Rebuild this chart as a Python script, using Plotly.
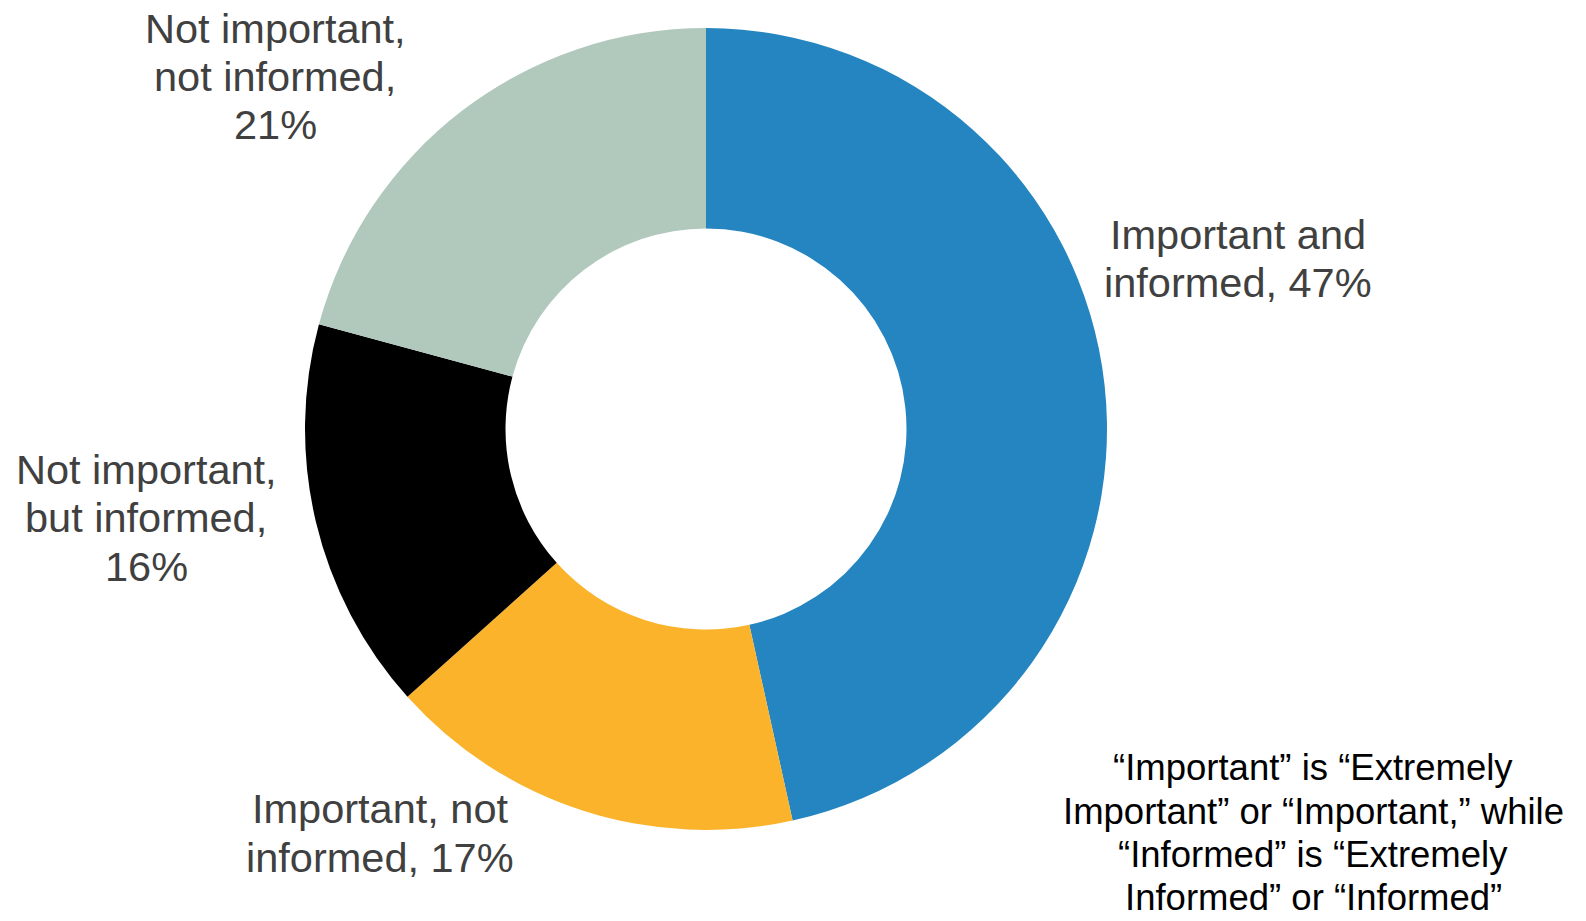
import plotly.graph_objects as go

# Survey shares: importance vs. being informed
categories = ["Important and informed", "Important, not informed",
              "Not important, but informed", "Not important, not informed"]
values = [47, 17, 16, 21]
slice_colors = ["#2585C0", "#FAB32A", "#000000", "#B1C9BD"]

# Label text split into display lines; the value is appended to the last line
label_lines = [
    ["Important and", "informed,"],
    ["Important, not", "informed,"],
    ["Not important,", "but informed,", ""],
    ["Not important,", "not informed,", ""],
]

footnote_lines = [
    "\u201cImportant\u201d is \u201cExtremely",
    "Important\u201d or \u201cImportant,\u201d while",
    "\u201cInformed\u201d is \u201cExtremely",
    "Informed\u201d or \u201cInformed\u201d",
]

W, H = 1586, 921
FONT = "Liberation Sans, Arial, sans-serif"
LABEL_SIZE = 41.5
NOTE_SIZE = 36.5

fig = go.Figure(go.Pie(
    labels=categories,
    values=values,
    hole=0.5,
    sort=False,
    direction="clockwise",
    rotation=0,
    marker=dict(colors=slice_colors, line=dict(width=0)),
    textinfo="none",
    hoverinfo="label+percent",
    showlegend=False,
    domain=dict(x=[305 / W, 1107 / W], y=[1 - 830 / H, 1 - 28 / H]),
))


def add_text_block(lines, cx, first_baseline, pitch, size, color):
    for i, line in enumerate(lines):
        baseline = first_baseline + i * pitch
        fig.add_annotation(
            x=cx / W, y=1 - (baseline - 0.36 * size) / H,
            xref="paper", yref="paper",
            text=line, showarrow=False,
            xanchor="center", yanchor="middle",
            font=dict(family=FONT, size=size, color=color),
        )


def with_value(lines, v):
    out = list(lines)
    last = out[-1]
    out[-1] = (last + " " if last else "") + f"{v}%"
    return out


# (center x, first baseline, line pitch) for each slice label
label_anchor = [
    (1238, 249, 48),
    (380, 823, 49),
    (146, 484, 48.5),
    (275, 43, 48),
]

for lines, v, (cx, by, pitch) in zip(label_lines, values, label_anchor):
    add_text_block(with_value(lines, v), cx, by, pitch, LABEL_SIZE, "#404040")

add_text_block(footnote_lines, 1313, 781, 43.3, NOTE_SIZE, "#000000")

fig.update_layout(
    width=W, height=H,
    margin=dict(l=0, r=0, t=0, b=0),
    paper_bgcolor="white",
    plot_bgcolor="white",
)

fig.write_html("out.html")
